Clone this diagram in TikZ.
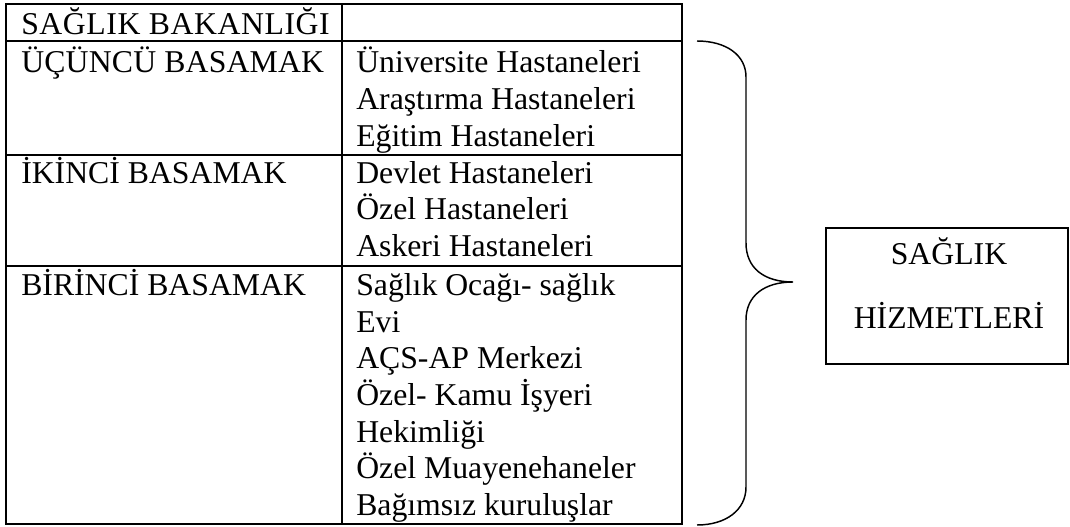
\documentclass[tikz,border=0pt]{standalone}
\usepackage{fontspec}
\setmainfont{Liberation Serif}
\begin{document}
\begin{tikzpicture}[x=0.75pt,y=-0.75pt,
  txt/.style={anchor=base west,inner sep=0pt,font=\fontsize{23.8pt}{28pt}\selectfont},
  ctxt/.style={anchor=base,inner sep=0pt,font=\fontsize{23.8pt}{28pt}\selectfont},
  grid/.style={line width=1.5pt},
  bracestyle/.style={line width=1.1pt},
  boxstyle/.style={draw,line width=1.1pt,rectangle,inner sep=0pt,minimum width=181.5pt,minimum height=102pt}]
\useasboundingbox (0,0) rectangle (1070,527);
% table
\draw[grid] (6,4) rectangle (682,524);
\draw[grid] (342,4) -- (342,524);
\draw[grid] (6,41) -- (682,41);
\draw[grid] (6,155) -- (682,155);
\draw[grid] (6,266) -- (682,266);
% left column
\node[txt] (bak) at (21,35) {\addfontfeatures{LetterSpace=1.8}SAĞLIK BAKANLIĞI};
\node[txt] (b3) at (21,73) {\addfontfeatures{LetterSpace=0.6}ÜÇÜNCÜ BASAMAK};
\node[txt] (b2) at (21,184) {İKİNCİ BASAMAK};
\node[txt] (b1) at (21,295) {BİRİNCİ BASAMAK};
% right column
\node[txt] (r1) at (356,73) {Üniversite Hastaneleri};
\node[txt] (r2) at (356,110) {Araştırma Hastaneleri};
\node[txt] (r3) at (356,147) {Eğitim Hastaneleri};
\node[txt] (r4) at (356,184) {Devlet Hastaneleri};
\node[txt] (r5) at (356,220) {Özel Hastaneleri};
\node[txt] (r6) at (356,257) {Askeri Hastaneleri};
\node[txt] (r7) at (356,295) {Sağlık Ocağı- sağlık};
\node[txt] (r8) at (356,332) {Evi};
\node[txt] (r9) at (356,368) {AÇS-AP Merkezi};
\node[txt] (r10) at (356,405) {Özel- Kamu İşyeri};
\node[txt] (r11) at (356,442) {Hekimliği};
\node[txt] (r12) at (356,478) {Özel Muayenehaneler};
\node[txt] (r13) at (356,515) {Bağımsız kuruluşlar};
% brace
\draw[bracestyle] (697,41) .. controls (726,41) and (746,55) .. (746,77) -- (746,243)
  .. controls (746,268) and (764,282) .. (793,282)
  .. controls (764,282) and (746,296) .. (746,320) -- (746,487)
  .. controls (746,510) and (726,525) .. (697,525);
% box
\node[boxstyle] (hiz) at (947,296) {};
\node[ctxt] (h1) at (949,265) {SAĞLIK};
\node[ctxt] (h2) at (949,328) {HİZMETLERİ};
\end{tikzpicture}
\end{document}
